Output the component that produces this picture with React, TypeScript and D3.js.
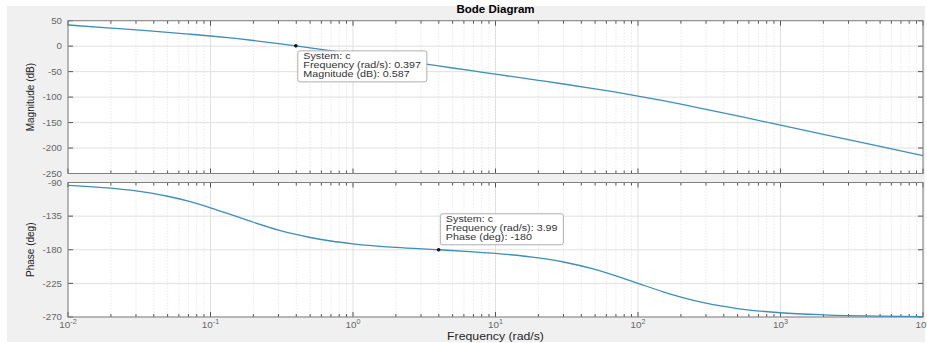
import React from 'react';
import * as d3 from 'd3';

// Bode samples (rad/s, dB, deg)
const FREQ = [0.01, 0.02, 0.03, 0.05, 0.07, 0.1, 0.15, 0.2, 0.3, 0.397, 0.5, 0.7, 1, 2, 3.99, 7, 10, 20, 30, 50, 70, 100, 150, 200, 300, 500, 1000, 2000, 5000, 10000];
const MAG_DB = [41.6, 35.5, 31.9, 27.2, 23.8, 20.0, 15.1, 11.1, 5.1, 0.587, -3.2, -8.9, -15.0, -26.9, -38.9, -48.7, -54.9, -67.1, -74.3, -83.8, -90.4, -97.9, -107.0, -113.9, -124.0, -137.0, -154.9, -173.0, -196.8, -214.9];
const PHASE_DEG = [-93.8, -97.6, -101.3, -108.4, -115.0, -123.8, -135.1, -143.2, -153.6, -159.5, -163.6, -168.3, -172.0, -176.9, -180, -182.8, -184.9, -190.9, -196.4, -206.4, -214.9, -224.9, -236.3, -243.4, -251.5, -258.7, -264.3, -267.1, -268.9, -269.4];

const MAG_TICKS = [50, 0, -50, -100, -150, -200, -250];
const PHASE_TICKS = [-90, -135, -180, -225, -270];
const DECADES = [-2, -1, 0, 1, 2, 3, 4];

const MAG_TIP = ['System: c', 'Frequency (rad/s): 0.397', 'Magnitude (dB): 0.587'];
const MAG_TIP_POINT = { f: 0.397, v: 0.587 };
const PHASE_TIP = ['System: c', 'Frequency (rad/s): 3.99', 'Phase (deg): -180'];
const PHASE_TIP_POINT = { f: 3.99, v: -180 };

const W = 927;
const H = 343;
const FONT = '"Liberation Sans", Arial, Helvetica, sans-serif';
const LINE = '#3c8fb8';
const SX = 1.17; // the reference is a bit stretched sideways

const x = d3.scaleLog().domain([1e-2, 1e4]).range([68, 923]);
const yMag = d3.scaleLinear().domain([-250, 50]).range([173.5, 20.7]);
const yPh = d3.scaleLinear().domain([-270, -90]).range([317, 182.5]);

const allTicks = x.ticks();
const isDecade = (t: number) => Math.abs(Math.log10(t) - Math.round(Math.log10(t))) < 1e-9;
const minorTicks = allTicks.filter(t => !isDecade(t));

function Axes({ y, ticks, values, label, tip, tipPoint, tipDx, tipDy, boxW }: any) {
  const [y0, y1] = y.range();
  const [x0, x1] = x.range();
  const line = d3.line<number>()
    .x((_, i) => x(FREQ[i]))
    .y(d => y(d))
    .curve(d3.curveMonotoneX);
  const mx = x(tipPoint.f);
  const my = y(tipPoint.v);
  const bx = mx + tipDx;
  const by = my + tipDy;
  return (
    <g>
      <rect x={x0} y={y1} width={x1 - x0} height={y0 - y1} fill="#fff" />
      {/* minor x grid */}
      {minorTicks.map(t => (
        <line key={'mg' + t} x1={x(t)} x2={x(t)} y1={y1} y2={y0} stroke="#d6d6d6" strokeWidth={0.8} strokeDasharray="1,2" />
      ))}
      {/* major grid */}
      {DECADES.map(d => (
        <line key={'Mg' + d} x1={x(10 ** d)} x2={x(10 ** d)} y1={y1} y2={y0} stroke="#e0e0e0" strokeWidth={1} />
      ))}
      {ticks.map((t: number) => (
        <line key={'yg' + t} x1={x0} x2={x1} y1={y(t)} y2={y(t)} stroke="#e0e0e0" strokeWidth={1} />
      ))}
      {/* ticks */}
      {minorTicks.map(t => (
        <g key={'mt' + t}>
          <line x1={x(t)} x2={x(t)} y1={y1} y2={y1 + 3} stroke="#555" />
          <line x1={x(t)} x2={x(t)} y1={y0} y2={y0 - 3} stroke="#555" />
        </g>
      ))}
      {DECADES.map(d => (
        <g key={'Mt' + d}>
          <line x1={x(10 ** d)} x2={x(10 ** d)} y1={y1} y2={y1 + 5} stroke="#555" />
          <line x1={x(10 ** d)} x2={x(10 ** d)} y1={y0} y2={y0 - 5} stroke="#555" />
        </g>
      ))}
      {ticks.map((t: number) => (
        <g key={'yt' + t}>
          <line x1={x0} x2={x0 + 5} y1={y(t)} y2={y(t)} stroke="#555" />
          <line x1={x1} x2={x1 - 5} y1={y(t)} y2={y(t)} stroke="#555" />
          <text transform={`translate(62,${y(t)}) scale(1.08,1)`} dy="0.35em" textAnchor="end" fontSize={9} fill="#666">{t}</text>
        </g>
      ))}
      <rect x={x0} y={y1} width={x1 - x0} height={y0 - y1} fill="none" stroke="#808080" strokeWidth={1} />
      <path d={line(values) || ''} fill="none" stroke={LINE} strokeWidth={1.3} />
      <text transform={`translate(34,${(y0 + y1) / 2}) rotate(-90)`} textAnchor="middle" fontSize={10} fill="#222">{label}</text>
      {/* data tip */}
      <rect x={bx} y={by} width={boxW} height={31} rx={2} fill="#fff" stroke="#9a9a9a" strokeWidth={0.8} />
      <g transform={`translate(${bx + 5.5},${by + 8}) scale(${SX},1)`}>
        {tip.map((s: string, i: number) => (
          <text key={s} x={0} y={i * 9.3} fontSize={9.2} fill="#333">{s}</text>
        ))}
      </g>
      <circle cx={mx} cy={my} r={1.8} fill="#111" />
    </g>
  );
}

export default function App() {
  return (
    <svg width={W} height={H} style={{ position: 'absolute', left: 0, top: 0, fontFamily: FONT }}>
      <rect x={0} y={0} width={W} height={H} fill="#fff" />
      <rect x={7} y={6} width={918} height={336} fill="#f0f0f0" />
      <text transform={`translate(495.5,13) scale(1.05,1)`} textAnchor="middle" fontSize={11} fontWeight="bold" fill="#000">Bode Diagram</text>
      <Axes y={yMag} ticks={MAG_TICKS} values={MAG_DB} label="Magnitude (dB)" tip={MAG_TIP} tipPoint={MAG_TIP_POINT} tipDx={2} tipDy={5} boxW={129} />
      <Axes y={yPh} ticks={PHASE_TICKS} values={PHASE_DEG} label="Phase (deg)" tip={PHASE_TIP} tipPoint={PHASE_TIP_POINT} tipDx={1.7} tipDy={-36} boxW={123} />
      {DECADES.map(d => (
        <text key={'xl' + d} transform={`translate(${x(10 ** d)},328) scale(1.1,1)`} textAnchor="middle" fontSize={9} fill="#666">
          10<tspan dy={-4} fontSize={6.5}>{d}</tspan>
        </text>
      ))}
      <text transform={`translate(495.5,340) scale(${SX},1)`} textAnchor="middle" fontSize={10.5} fill="#262626">Frequency  (rad/s)</text>
    </svg>
  );
}
